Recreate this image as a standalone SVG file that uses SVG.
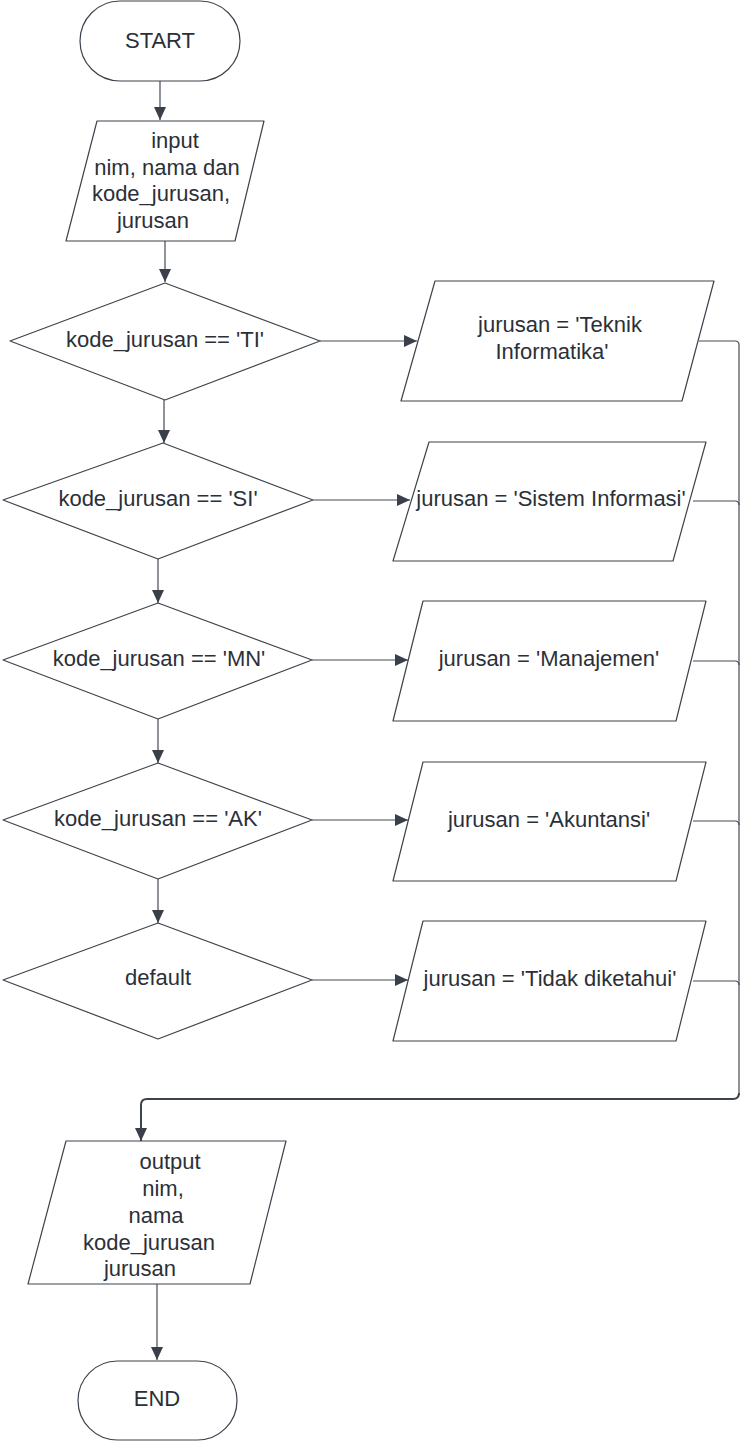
<svg xmlns="http://www.w3.org/2000/svg" width="740" height="1441" viewBox="0 0 740 1441">
<style>
.shape{fill:#ffffff;stroke:#3d434c;stroke-width:1.2;stroke-linejoin:round}
.t{font-family:"Liberation Sans",Arial,sans-serif;font-size:22px;fill:#2b3038;text-anchor:middle;dominant-baseline:central}
.c{fill:none;stroke:#454b54;stroke-width:1.2}
.cb{fill:none;stroke:#3d434c;stroke-width:2}
</style>
<defs>
<marker id="arr" markerUnits="userSpaceOnUse" markerWidth="14" markerHeight="12" refX="13" refY="6" orient="auto">
<path d="M0,0 L13,6 L0,12 Z" fill="#3a4049"/>
</marker>
</defs>
<rect width="740" height="1441" fill="#ffffff"/>
<g id="connectors">
<path class="c" d="M160,81 V120" marker-end="url(#arr)"/>
<path class="c" d="M165,241 V282" marker-end="url(#arr)"/>
<path class="c" d="M320,341 H417" marker-end="url(#arr)"/>
<path class="c" d="M164,400 V443" marker-end="url(#arr)"/>
<path class="c" d="M313,500 H410" marker-end="url(#arr)"/>
<path class="c" d="M158,559 V603" marker-end="url(#arr)"/>
<path class="c" d="M312,660 H408" marker-end="url(#arr)"/>
<path class="c" d="M158,719 V763" marker-end="url(#arr)"/>
<path class="c" d="M312,820 H408" marker-end="url(#arr)"/>
<path class="c" d="M158,879 V923" marker-end="url(#arr)"/>
<path class="c" d="M312,980 H408" marker-end="url(#arr)"/>
<path class="c" d="M699,341 H735 Q739,341 739,345 V1095"/>
<path class="c" d="M693,501 H735 Q739,501 739,505"/>
<path class="c" d="M693,661 H735 Q739,661 739,665"/>
<path class="c" d="M693,821 H735 Q739,821 739,825"/>
<path class="c" d="M693,981 H735 Q739,981 739,985"/>
<path class="cb" d="M739,1093 Q739,1099 733,1099 H147 Q141,1099 141,1105 V1141" marker-end="url(#arr)"/>
<path class="c" d="M157,1284 V1360" marker-end="url(#arr)"/>
</g>
<g id="start">
<rect class="shape" x="80" y="1" width="160" height="80" rx="40" ry="40"/>
<text class="t" x="160" y="40">START</text>
</g>
<g id="input">
<polygon class="shape" points="97,121 264,121 235,241 66,241"/>
<text class="t" x="175" y="140">input</text>
<text class="t" x="167" y="167">nim, nama dan</text>
<text class="t" x="161" y="193">kode_jurusan,</text>
<text class="t" x="153" y="220">jurusan</text>
</g>
<g id="d1">
<polygon class="shape" points="10,341 165,283 320,341 165,400"/>
<text class="t" x="165" y="339">kode_jurusan == 'TI'</text>
</g>
<g id="p1">
<polygon class="shape" points="435,281 714,281 682,401 401,401"/>
<text class="t" x="560" y="324">jurusan = 'Teknik</text>
<text class="t" x="552" y="351">Informatika'</text>
</g>
<g id="d2">
<polygon class="shape" points="3,500 163,443 313,500 158,559"/>
<text class="t" x="158" y="498">kode_jurusan == 'SI'</text>
</g>
<g id="p2">
<polygon class="shape" points="429,442 706,442 673,561 393,561"/>
<text class="t" x="551" y="498">jurusan = 'Sistem Informasi'</text>
</g>
<g id="d3">
<polygon class="shape" points="3,660 158,603 312,660 158,719"/>
<text class="t" x="159" y="658">kode_jurusan == 'MN'</text>
</g>
<g id="p3">
<polygon class="shape" points="423,601 706,601 676,721 393,721"/>
<text class="t" x="549" y="658">jurusan = 'Manajemen'</text>
</g>
<g id="d4">
<polygon class="shape" points="3,820 158,763 312,820 158,879"/>
<text class="t" x="158" y="818">kode_jurusan == 'AK'</text>
</g>
<g id="p4">
<polygon class="shape" points="423,762 706,762 676,881 393,881"/>
<text class="t" x="549" y="819">jurusan = 'Akuntansi'</text>
</g>
<g id="d5">
<polygon class="shape" points="3,980 158,923 312,980 158,1039"/>
<text class="t" x="158" y="977">default</text>
</g>
<g id="p5">
<polygon class="shape" points="423,921 706,921 676,1041 393,1041"/>
<text class="t" x="550" y="978">jurusan = 'Tidak diketahui'</text>
</g>
<g id="output">
<polygon class="shape" points="66,1141 286,1141 250,1284 28,1284"/>
<text class="t" x="170" y="1161">output</text>
<text class="t" x="163" y="1188">nim,</text>
<text class="t" x="156" y="1215">nama</text>
<text class="t" x="149" y="1242">kode_jurusan</text>
<text class="t" x="140" y="1268">jurusan</text>
</g>
<g id="end">
<rect class="shape" x="78" y="1361" width="159" height="79" rx="39.5" ry="39.5"/>
<text class="t" x="157" y="1398">END</text>
</g>
</svg>
